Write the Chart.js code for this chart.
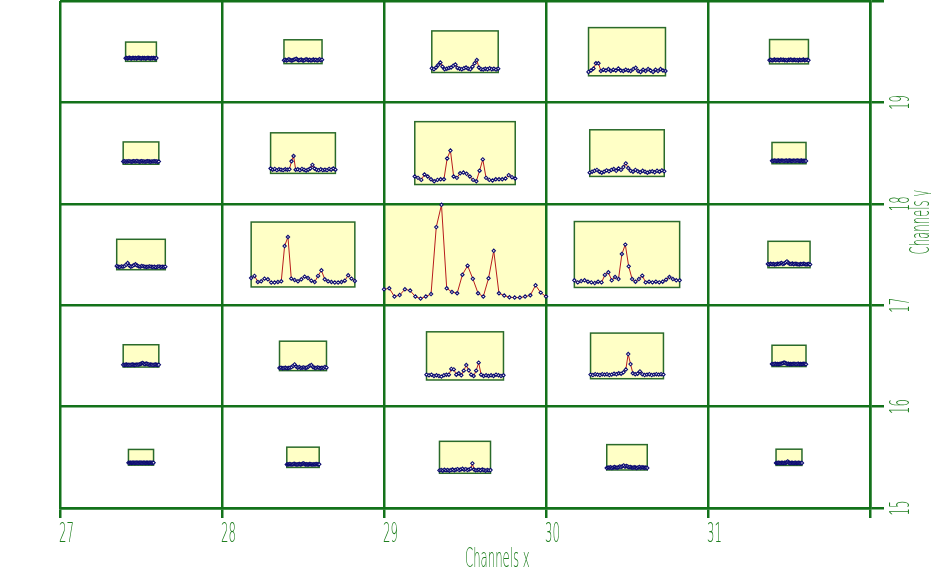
<!DOCTYPE html>
<html>
<head>
<meta charset="utf-8">
<script src="https://cdn.jsdelivr.net/npm/chart.js@4.4.1/dist/chart.umd.min.js"></script>
<style>
html, body { margin: 0; padding: 0; background: #fff; }
</style>
</head>
<body>
<canvas id="myChart" width="931" height="569"></canvas>
<script>

// channel cells (lower left corner of each cell)
const channelsX = [27, 28, 29, 30, 31];
const channelsY = [15, 16, 17, 18, 19];
const xLabels = ['27', '28', '29', '30', '31'];
const yLabels = ['15', '16', '17', '18', '19'];

// size of the yellow box in each cell, as a fraction of the cell
const box15 = [0.155, 0.20, 0.315, 0.25, 0.16];
const box16 = [0.22, 0.29, 0.475, 0.45, 0.21];
const box17 = [0.30, 0.64, 1.00, 0.65, 0.26];
const box18 = [0.22, 0.40, 0.62, 0.46, 0.21];
const box19 = [0.19, 0.235, 0.41, 0.475, 0.24];

// spectra, 32 channels, in % of the box height
const spec15 = [
  [15,14,16,15,14,15,16,15,14,15,16,15,14,15,16,15,15,14,15,16,15,14,15,16,15,14,15,16,15,14,15,15],
  [14,16,15,17,15,14,16,18,16,15,14,16,17,15,16,18,20,17,15,16,14,15,17,16,15,14,16,15,17,16,15,16],
  [9,10,8,11,9,10,8,10,12,9,11,13,10,12,14,11,13,10,12,14,31,12,9,10,11,9,12,10,8,10,9,10],
  [8,10,9,11,8,10,12,10,9,11,14,12,15,18,13,16,14,11,12,10,9,11,10,8,10,12,9,11,10,9,10,8],
  [15,14,15,16,15,14,15,16,15,14,16,15,17,20,25,18,15,14,15,16,15,14,15,16,15,14,15,16,15,14,15,15]
];
const spec16 = [
  [10,9,10,11,9,10,9,10,11,10,9,10,11,10,12,14,16,18,15,13,16,14,12,10,11,10,9,10,11,10,9,10],
  [9,10,8,9,10,8,9,10,12,16,21,14,10,12,9,10,11,9,10,13,17,19,12,10,9,11,10,8,10,9,12,10],
  [11,9.7,11,8.3,9.7,8.3,7,9.7,11,11,23,22,11,14,9.7,19.4,31,20,11,8.3,19.4,36,11,8.3,9.7,8.3,9.7,8.3,11,9.7,8.3,9.7],
  [9,8,10,9,8,10,9,10,8,9,11,10,12,11,14,20,54,32,12,10,11,16,10,8,9,10,8,9,10,9,10,9],
  [12,11,12,13,11,12,11,12,13,14,16,19,17,14,12,13,11,12,11,12,13,12,11,12,13,11,12,11,12,13,12,11]
];
const spec17 = [
  [12,10,9,11,10,12,16,22,14,10,12,15,18,14,11,10,12,11,10,9,10,11,10,9,10,8,10,11,9,10,9,10],
  [13.8,17,7.7,8.7,12.8,11.8,6.7,6.7,7.7,8.7,63,77,12.8,10.8,8.7,11.8,15.9,13.8,9.7,7.7,17,25.6,11.8,8.7,7.7,6.7,6.7,7.7,9.7,18,12.8,9.2],
  [15.7,16.7,8.5,10,15.7,14.4,8.5,6.5,8.5,11,77,99,16.7,13,11.8,30,39,26,11.8,8.5,26.5,53.6,11.8,9.5,7.8,7.5,7.5,8.5,9.8,19.6,12.4,8.5],
  [10.8,7.7,9.7,10.8,8.7,7.7,6.7,8.7,7.7,19,23,10.8,15.9,12.8,50.8,65,32,12.8,8.7,12.8,17.9,7.7,8.7,7.7,8.7,7.7,8.7,11.8,15.9,12.8,10.8,10.8],
  [14,12,15,13,14,12,13,15,14,16,18,14,16,20,24,18,15,14,16,13,15,14,13,12,14,13,15,14,12,13,14,12]
];
const spec18 = [
  [12,14,11,13,12,14,13,11,12,14,13,12,15,13,11,12,14,12,13,11,12,14,13,12,11,13,12,14,12,13,11,12],
  [12,9,11,8,10,9,8,10,9,10,30,43,9,10,8,11,9,7,9,12,21,12,9,8,10,8,9,8,11,9,12,9],
  [12.8,10.6,7.4,16,12.8,8.5,5.3,7.4,8.5,8.5,41.5,54,12.8,10.6,18,19,17,12.8,7.4,5.3,22,40,10.6,7.4,6.4,8.5,8.5,8.5,9.6,15,11.7,9.6],
  [8,10,12,14,10,8,10,13,11,14,16,12,17,14,20,28,18,12,10,14,11,9,12,10,8,10,11,9,12,10,13,11],
  [14,13,15,14,13,14,15,13,14,15,14,13,14,15,13,14,15,14,13,14,15,13,14,15,14,13,14,15,13,14,14,13]
];
const spec19 = [
  [16,18,15,17,19,16,15,18,17,16,18,15,17,19,17,16,15,18,16,17,15,16,18,17,16,15,17,16,18,16,15,17],
  [14,16,13,15,18,15,13,14,16,18,20,16,14,15,17,14,13,15,18,16,14,16,13,15,17,14,16,13,15,18,14,16],
  [10,8,12,18,24,14,8,9,11,12,16,19,11,9,8,10,12,9,8,14,22,30,12,8,7,9,8,10,8,9,7,9],
  [8,11,15,26,26,10,12.5,11,14,10,12.5,11,15,11,10,12.5,11,10,14,16.5,10,8,12.5,10,14,11,8,12.5,10,14,11,10],
  [15,17,14,16,18,15,17,16,15,18,16,17,15,16,14,17,16,18,15,16,17,15,16,14,17,15,16,18,15,16,17,15]
];

const boxes = [box15, box16, box17, box18, box19];
const spectra = [spec15, spec16, spec17, spec18, spec19];

const green = '#13721a';
const textGreen = '#1f7f1f';
const textFont = "200 26px 'DejaVu Sans', sans-serif";
const squeeze = 0.45;

// each spectrum sits in its box, box centred in the cell
const datasets = [];
channelsY.forEach((cy, r) => {
  channelsX.forEach((cx, c) => {
    const s = boxes[r][c];
    const vals = spectra[r][c];
    const n = vals.length - 1;
    datasets.push({
      data: vals.map((v, i) => ({
        x: cx + 0.5 - s / 2 + s * i / n,
        y: cy + 0.5 - s / 2 + s * v / 100
      })),
      showLine: true,
      borderColor: '#b81c1c',
      borderWidth: 1,
      pointStyle: 'rectRot',
      pointRadius: 1.7,
      pointBorderWidth: 1.1,
      pointBorderColor: '#0c0c70',
      pointBackgroundColor: '#ffffff'
    });
  });
});

function squeezedText(ctx, text, x, y, angle, align) {
  ctx.save();
  ctx.translate(x, y);
  ctx.rotate(angle);
  ctx.scale(squeeze, 1);
  ctx.textAlign = align;
  ctx.fillText(text, 0, 0);
  ctx.restore();
}

const cellBoxes = {
  id: 'cellBoxes',
  beforeDraw(chart) {
    const { ctx, scales: { x, y } } = chart;
    ctx.save();
    channelsY.forEach((cy, r) => {
      channelsX.forEach((cx, c) => {
        const s = boxes[r][c];
        const x0 = x.getPixelForValue(cx + 0.5 - s / 2);
        const x1 = x.getPixelForValue(cx + 0.5 + s / 2);
        const y0 = y.getPixelForValue(cy + 0.5 + s / 2);
        const y1 = y.getPixelForValue(cy + 0.5 - s / 2);
        ctx.fillStyle = '#ffffc6';
        ctx.fillRect(x0, y0, x1 - x0, y1 - y0);
        ctx.strokeStyle = '#2a6a2a';
        ctx.lineWidth = 1.5;
        ctx.strokeRect(x0, y0, x1 - x0, y1 - y0);
      });
    });
    ctx.restore();
  },
  afterDraw(chart) {
    // tick labels and axis titles in a tall narrow face
    const { ctx, chartArea, scales: { x, y } } = chart;
    ctx.save();
    ctx.fillStyle = textGreen;
    ctx.font = textFont;
    ctx.textBaseline = 'alphabetic';
    x.ticks.forEach((t) => {
      const i = channelsX.indexOf(t.value);
      if (i < 0) return;
      squeezedText(ctx, xLabels[i], x.getPixelForValue(t.value) - 1, 542, 0, 'left');
    });
    y.ticks.forEach((t) => {
      const i = channelsY.indexOf(t.value);
      if (i < 0) return;
      squeezedText(ctx, yLabels[i], 909, y.getPixelForValue(t.value), -Math.PI / 2, 'center');
    });
    squeezedText(ctx, 'Channels x', (chartArea.left + chartArea.right) / 2, 567, 0, 'left');
    squeezedText(ctx, 'Channels y', 929, (chartArea.top + chartArea.bottom) / 2, -Math.PI / 2, 'left');
    ctx.restore();
  }
};

function fixSize(size, key) {
  return (scale) => {
    scale[key] = size;
    scale.paddingLeft = 0;
    scale.paddingRight = 0;
    scale.paddingTop = 0;
    scale.paddingBottom = 0;
  };
}

new Chart(document.getElementById('myChart'), {
  type: 'scatter',
  data: { datasets: datasets },
  plugins: [cellBoxes],
  options: {
    responsive: false,
    animation: false,
    devicePixelRatio: 1,
    layout: { autoPadding: false, padding: { left: 60, top: 1, right: 0, bottom: 0 } },
    plugins: { legend: { display: false }, tooltip: { enabled: false } },
    scales: {
      x: {
        type: 'linear',
        min: 27,
        max: 32,
        afterFit: fixSize(61, 'height'),
        grid: { color: green, lineWidth: 2.5, tickLength: 10 },
        border: { color: green, width: 2.5 },
        ticks: { stepSize: 1, display: false }
      },
      y: {
        type: 'linear',
        position: 'right',
        min: 15,
        max: 20,
        afterFit: fixSize(61, 'width'),
        grid: { color: green, lineWidth: 2.5, tickLength: 14 },
        border: { color: green, width: 2.5 },
        ticks: { stepSize: 1, display: false }
      }
    }
  }
});

</script>
</body>
</html>
